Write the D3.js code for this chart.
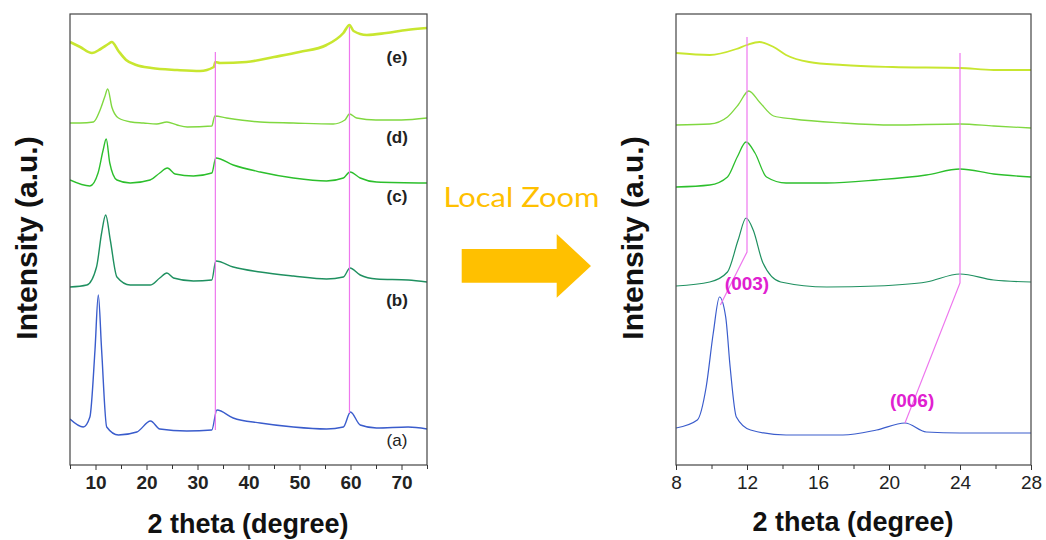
<!DOCTYPE html>
<html><head><meta charset="utf-8">
<script src="https://cdn.jsdelivr.net/npm/d3@7"></script>
<style>body{margin:0;background:#fff}svg{display:block}</style>
</head><body>
<svg id="c" width="1046" height="540"></svg>
<script>
// ---------- DATA (2theta, intensity a.u.) ----------
const seriesNames = ["(a)", "(b)", "(c)", "(d)", "(e)"];
const seriesColors = ["#3a5ccc", "#1f9060", "#2cbf2c", "#80d840", "#c8e630"];

// Left panel: full range 5-75
const fullA = [[5,46],[7.6,38],[8.9,48],[9.9,115],[10.55,170],[11.2,115],[12.2,38],[14.5,30],[18.1,33],[20.8,44],[22.6,36],[27.9,34],[32.8,35],[33.8,55],[37,47],[42.3,42],[48.8,38],[55.3,36],[58.6,38],[60,53],[61.9,40],[65.1,37],[71.3,38],[75,36]];
const fullB = [[5,178],[8.3,180],[10.2,198],[11.2,232],[12.0,250],[12.9,225],[14.2,188],[16.8,180],[20.7,180],[22.6,187],[24,192],[25.3,187],[29.2,184],[32.8,185],[33.6,204],[37,198],[42.3,193],[48.8,189],[55.3,186],[58.6,188],[59.9,197],[61.9,190],[65.1,186],[71.3,185],[75,183]];
const fullC = [[5,285],[8.9,279],[10.5,292],[11.5,315],[12.1,326],[12.8,302],[14.2,285],[16.8,282],[20.7,285],[22.6,292],[24.1,297],[25.6,291],[29.2,289],[32.8,292],[33.6,307],[37,300],[42.3,293],[48.8,287],[55.3,284],[58.6,287],[59.9,293],[61.9,287],[65.1,283],[75,282]];
const fullD = [[5,342],[7,342],[9.6,343],[10.9,355],[11.8,368],[12.4,376],[13.2,358],[14.5,347],[17,343],[19.4,342],[22,341],[24,343],[26,340],[28,338],[32.8,339],[33.4,349],[35.7,347],[42.3,343],[48.8,342],[56.6,341],[58.9,345],[59.8,351],[61.2,347],[65,345],[70,345],[75,347]];
const fullE = [[5,423],[7,418],[9.3,412],[11,416],[12.5,421],[13.2,423],[14.5,414],[16,405],[18,400],[21,397],[26,395],[30.5,394],[33.2,398],[33.5,403],[34.4,402],[39.6,403],[45,408],[50,413],[55.3,420],[58.6,432],[59.8,440],[60.6,434],[63.2,430],[67,432],[71,435],[75,437]];

// Right panel: zoom 8-28
const zoomA = [[8,37],[9.2,45],[9.7,78],[10.1,132],[10.45,168],[10.8,148],[11.05,98],[11.4,48],[12.2,35],[14.2,30],[17.4,30],[19.3,35],[20.9,42],[22.1,33],[24,32],[28,32]];
const zoomB = [[8,179],[9.9,183],[10.9,193],[11.5,225],[11.95,247],[12.35,235],[12.9,202],[13.9,183],[16.5,178],[19.3,179],[22.1,183],[24,191],[25.9,185],[28,183]];
const zoomC = [[8,278],[9.9,280],[10.9,288],[11.45,308],[11.95,323],[12.45,312],[13.1,288],[14.2,282],[16.5,282],[19.3,285],[22.1,290],[24,296],[25.9,291],[28,288]];
const zoomD = [[8,340],[9.9,341],[10.9,348],[11.5,360],[12.1,374],[12.7,363],[13.5,349],[14.6,346],[17.4,342],[20.2,340],[24,341],[25.9,339],[28,337]];
const zoomE = [[8,412],[9.9,410],[11.4,416],[12,420],[12.7,423],[13.5,418],[14.2,410],[15.5,403],[17.4,400],[20.2,398],[24,397],[25.9,395],[28,395]];

// Tick labels
const leftTicks = [10, 20, 30, 40, 50, 60, 70];
const leftMinor = [5, 15, 25, 35, 45, 55, 65, 75];
const rightTicks = [8, 12, 16, 20, 24, 28];
const rightMinor = [10, 14, 18, 22, 26];

// Guide lines (2theta, intensity)
const leftGuides = [[[33.5, 413], [33.5, 35]], [[59.8, 438], [59.8, 52]]];
const rightGuides = [[[12, 428], [12, 213], [10.5, 160]], [[24, 412], [24, 182], [20.9, 42]]];
const peakLabels = [{t: "(003)", x: 12.0, y: 182}, {t: "(006)", x: 21.3, y: 65}];

// ---------- DRAW ----------
const svg = d3.select("#c");
const yS = d3.scaleLinear([0, 451], [465, 14]);
const xL = d3.scaleLinear([5, 75], [70, 427]);
const xR = d3.scaleLinear([8, 28], [676, 1031]);
const FONT = "'Liberation Sans', Arial, sans-serif";
const MAG_LINE = "#ee77ee", MAG_TXT = "#e020d0";

function panel(id, x, seriesList, widths) {
  const [x0, x1] = x.range();
  svg.append("clipPath").attr("id", id).append("rect")
    .attr("x", x0).attr("y", 14).attr("width", x1 - x0).attr("height", 451);
  const g = svg.append("g").attr("clip-path", `url(#${id})`);
  const line = d3.line().x(d => x(d[0])).y(d => yS(d[1])).curve(d3.curveMonotoneX);
  seriesList.forEach((s, i) => {
    g.append("path").attr("d", line(s)).attr("fill", "none")
      .attr("stroke", seriesColors[i]).attr("stroke-width", widths[i])
      .attr("stroke-linejoin", "round");
  });
  return g;
}

const gL = panel("clipL", xL, [fullA, fullB, fullC, fullD, fullE], [1.4, 1.4, 1.4, 1.4, 2.6]);
const gR = panel("clipR", xR, [zoomA, zoomB, zoomC, zoomD, zoomE], [1.2, 1.2, 1.3, 1.3, 1.8]);

leftGuides.forEach(gd => {
  gL.append("path").attr("d", d3.line().x(d => xL(d[0])).y(d => yS(d[1]))(gd))
    .attr("fill", "none").attr("stroke", MAG_LINE).attr("stroke-width", 1.2);
});
rightGuides.forEach(gd => {
  gR.append("path").attr("d", d3.line().x(d => xR(d[0])).y(d => yS(d[1]))(gd))
    .attr("fill", "none").attr("stroke", MAG_LINE).attr("stroke-width", 1.2);
});
peakLabels.forEach(p => {
  svg.append("text").attr("x", xR(p.x)).attr("y", yS(p.y)).attr("text-anchor", "middle")
    .attr("dominant-baseline", "central").attr("font-family", FONT).attr("font-weight", "bold")
    .attr("font-size", 19).attr("fill", MAG_TXT).text(p.t);
});

// Series labels on left panel
const labelY = [440, 300, 196, 137, 57];
seriesNames.forEach((n, i) => {
  svg.append("text").attr("x", 397).attr("y", labelY[i]).attr("text-anchor", "middle")
    .attr("dominant-baseline", "central").attr("font-family", FONT)
    .attr("font-weight", i === 0 ? "normal" : "bold").attr("font-size", 17)
    .attr("fill", "#222").text(n);
});

// Frames and axes
function frame(x) {
  const [x0, x1] = x.range();
  svg.append("rect").attr("x", x0).attr("y", 14).attr("width", x1 - x0).attr("height", 451)
    .attr("fill", "none").attr("stroke", "#444").attr("stroke-width", 1.2);
}
frame(xL); frame(xR);

function axis(x, major, minor, bold, size) {
  const gM = svg.append("g").attr("transform", "translate(0,465)")
    .call(d3.axisBottom(x).tickValues(major).tickSize(5).tickPadding(6).tickFormat(d3.format("d")));
  gM.select(".domain").remove();
  gM.selectAll("line").attr("stroke", "#333");
  gM.selectAll("text").attr("font-family", FONT).attr("font-size", size)
    .attr("font-weight", bold ? "bold" : "normal").attr("fill", "#222");
  const gm = svg.append("g").attr("transform", "translate(0,465)")
    .call(d3.axisBottom(x).tickValues(minor).tickSize(4).tickFormat(""));
  gm.select(".domain").remove();
  gm.selectAll("line").attr("stroke", "#333");
}
axis(xL, leftTicks, leftMinor, true, 19);
axis(xR, rightTicks, rightMinor, false, 19);

// Titles
[[248, 533], [853, 531]].forEach(([cx, cy]) => {
  svg.append("text").attr("x", cx).attr("y", cy).attr("text-anchor", "middle")
    .attr("font-family", FONT).attr("font-weight", "bold").attr("font-size", 27)
    .attr("fill", "#111").text("2 theta (degree)");
});
[[37, 238], [643, 238]].forEach(([cx, cy]) => {
  svg.append("text").attr("transform", `translate(${cx},${cy}) rotate(-90)`)
    .attr("text-anchor", "middle").attr("font-family", FONT).attr("font-weight", "bold")
    .attr("font-size", 30).attr("fill", "#111").text("Intensity (a.u.)");
});

// Arrow + "Local Zoom"
svg.append("path")
  .attr("d", "M461.7,249 L556.7,249 L556.7,234 L591,266 L556.7,297.7 L556.7,282.7 L461.7,282.7 Z")
  .attr("fill", "#ffc000");
svg.append("text").attr("x", 521.5).attr("y", 207).attr("text-anchor", "middle")
  .attr("font-family", "Lato, 'Open Sans', sans-serif").attr("font-size", 27)
  .attr("fill", "#ffc000").attr("textLength", 156).attr("lengthAdjust", "spacingAndGlyphs")
  .text("Local Zoom");
</script>
</body></html>
